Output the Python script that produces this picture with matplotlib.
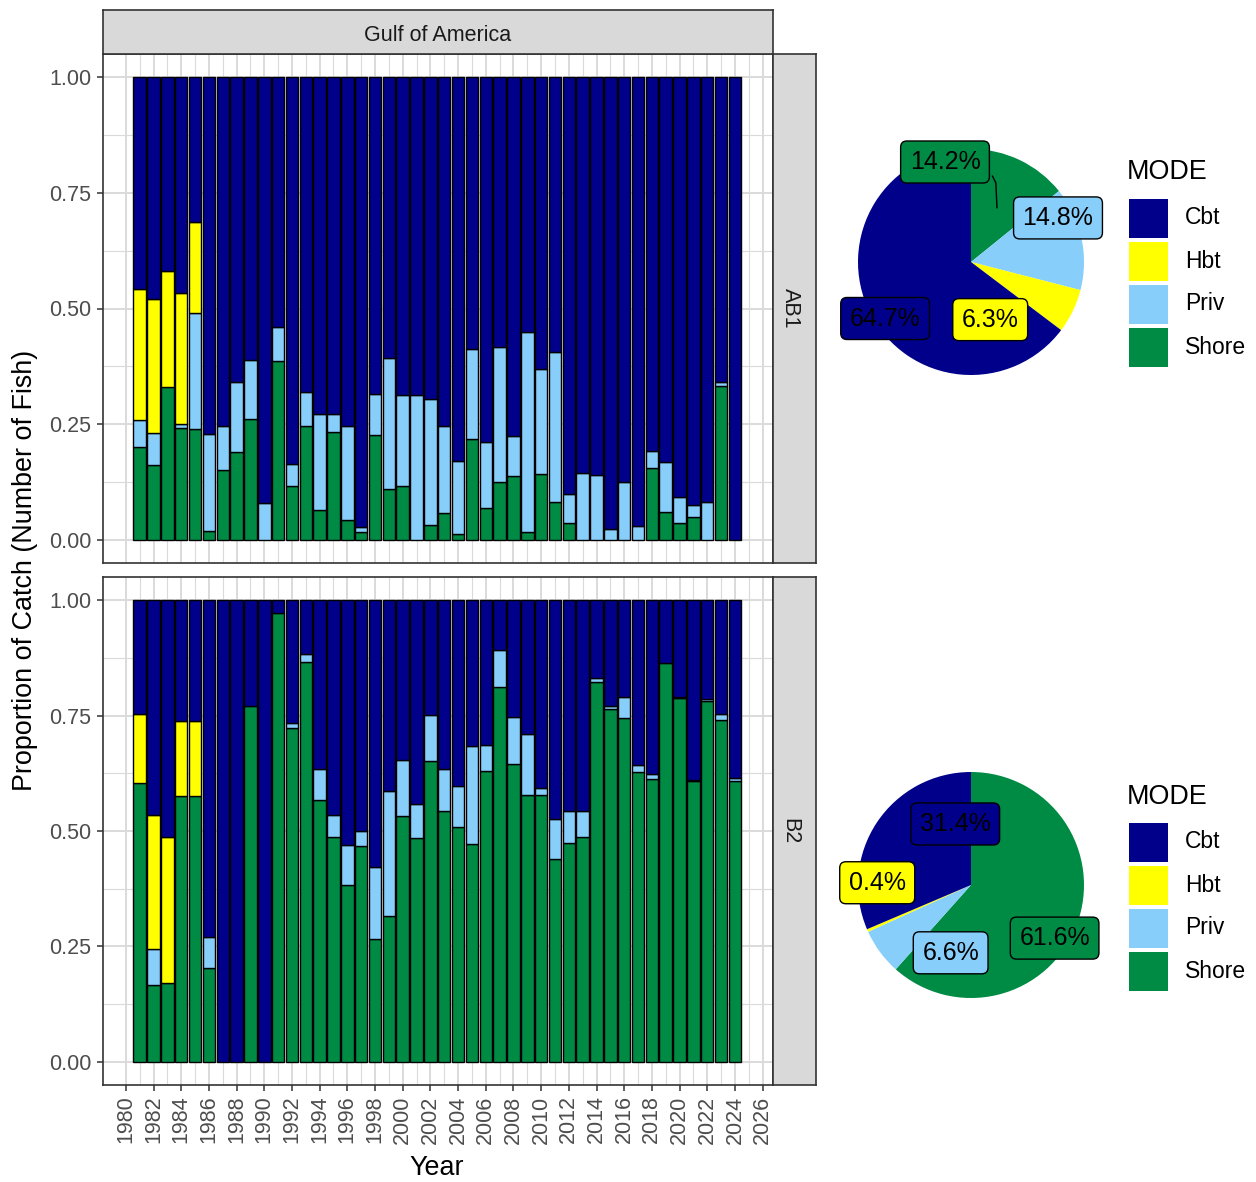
#!/usr/bin/env python3
# -*- coding: utf-8 -*-

#Librairies
import matplotlib
matplotlib.use('Agg')
import matplotlib.pyplot as plt
import numpy as np
from matplotlib.patches import Rectangle

plt.rcParams['font.family'] = ['Liberation Sans', 'DejaVu Sans']

################################
### Data                     ###
################################

years = list(range(1981, 2025))
modes = ['Cbt', 'Hbt', 'Priv', 'Shore']
mode_colors = {'Cbt': '#00008B', 'Hbt': '#FFFF00', 'Priv': '#87CEFA', 'Shore': '#008B45'}

# AB1 proportions (Cbt is the remaining share)
shore_ab1 = [0.201, 0.162, 0.330, 0.242, 0.240, 0.020, 0.150, 0.190, 0.262, 0.000,
             0.386, 0.117, 0.246, 0.065, 0.234, 0.042, 0.017, 0.226, 0.110, 0.117,
             0.000, 0.032, 0.058, 0.012, 0.217, 0.068, 0.126, 0.137, 0.017, 0.142,
             0.081, 0.037, 0.000, 0.000, 0.000, 0.000, 0.000, 0.156, 0.061, 0.037,
             0.049, 0.000, 0.333, 0.000]
priv_ab1 = [0.057, 0.068, 0.000, 0.008, 0.251, 0.209, 0.095, 0.151, 0.127, 0.079,
            0.075, 0.047, 0.074, 0.207, 0.038, 0.203, 0.011, 0.090, 0.282, 0.195,
            0.312, 0.272, 0.187, 0.159, 0.196, 0.144, 0.290, 0.088, 0.432, 0.227,
            0.324, 0.062, 0.144, 0.140, 0.024, 0.124, 0.031, 0.036, 0.107, 0.055,
            0.027, 0.081, 0.009, 0.000]
hbt_ab1 = [0.284, 0.290, 0.251, 0.283, 0.196] + [0.0] * 39

# B2 proportions
shore_b2 = [0.604, 0.167, 0.170, 0.575, 0.575, 0.203, 0.000, 0.000, 0.771, 0.000,
            0.971, 0.723, 0.867, 0.567, 0.488, 0.384, 0.468, 0.267, 0.315, 0.532,
            0.484, 0.652, 0.544, 0.508, 0.471, 0.631, 0.811, 0.644, 0.579, 0.579,
            0.439, 0.475, 0.488, 0.823, 0.764, 0.745, 0.628, 0.612, 0.864, 0.788,
            0.608, 0.782, 0.741, 0.608]
priv_b2 = [0.000, 0.077, 0.000, 0.000, 0.000, 0.067, 0.000, 0.000, 0.000, 0.000,
           0.000, 0.011, 0.016, 0.067, 0.046, 0.086, 0.031, 0.156, 0.272, 0.122,
           0.074, 0.099, 0.090, 0.090, 0.212, 0.056, 0.081, 0.102, 0.132, 0.015,
           0.088, 0.068, 0.055, 0.008, 0.007, 0.046, 0.014, 0.011, 0.000, 0.003,
           0.003, 0.003, 0.013, 0.006]
hbt_b2 = [0.150, 0.290, 0.316, 0.164, 0.164] + [0.0] * 39

# Overall shares (%) for the pies, order Cbt, Hbt, Priv, Shore
pie_ab1 = [64.7, 6.3, 14.8, 14.2]
pie_b2 = [31.4, 0.4, 6.6, 61.6]

################################
### Layout helpers           ###
################################

W, H = 1256, 1182
fig = plt.figure(figsize=(W / 100, H / 100), dpi=100)

def box(x0, y0, x1, y1):
    # pixel box (top-left origin) -> figure fraction rect
    return [x0 / W, 1 - y1 / H, (x1 - x0) / W, (y1 - y0) / H]

grid_col = '#DADADA'
border_col = '#333333'
tick_col = '#4D4D4D'

def bar_panel(rect, shore, priv, hbt, show_x):
    ax = fig.add_axes(rect)
    shore = np.array(shore)
    priv = np.array(priv)
    hbt = np.array(hbt)
    cbt = 1 - shore - priv - hbt
    x = np.array(years)
    bottom = np.zeros(len(years))
    for vals, m in [(shore, 'Shore'), (priv, 'Priv'), (hbt, 'Hbt'), (cbt, 'Cbt')]:
        keep = vals > 0
        ax.bar(x[keep], vals[keep], bottom=bottom[keep], width=0.9, color=mode_colors[m],
               edgecolor='black', linewidth=1.0, zorder=3)
        bottom = bottom + vals
    ax.set_xlim(1978.35, 2026.75)
    ax.set_ylim(-0.05, 1.05)
    ax.set_yticks([0, 0.25, 0.5, 0.75, 1.0])
    ax.set_yticklabels(['0.00', '0.25', '0.50', '0.75', '1.00'])
    ax.set_yticks([0.125, 0.375, 0.625, 0.875], minor=True)
    ax.set_xticks(np.arange(1980, 2027, 2))
    ax.set_xticks(np.arange(1981, 2027, 2), minor=True)
    ax.grid(which='major', color=grid_col, linewidth=1.4, zorder=0)
    ax.grid(which='minor', color=grid_col, linewidth=0.8, zorder=0)
    ax.tick_params(which='minor', length=0)
    ax.tick_params(axis='y', which='major', length=4.5, width=1.1, color=border_col,
                   labelsize=15.5, labelcolor=tick_col, pad=4)
    if show_x:
        ax.set_xticklabels([str(y) for y in range(1980, 2027, 2)], rotation=90)
        ax.tick_params(axis='x', which='major', length=4.5, width=1.1, color=border_col,
                       labelsize=15.5, labelcolor=tick_col, pad=3)
    else:
        ax.tick_params(axis='x', which='major', length=0, labelbottom=False)
    for s in ax.spines.values():
        s.set_color(border_col)
        s.set_linewidth(1.2)
    ax.set_axisbelow(True)
    return ax

def strip(rect, text, rotation=0, dx=0.5, dy=0.5):
    ax = fig.add_axes(rect)
    ax.set_facecolor('#D9D9D9')
    ax.set_xticks([])
    ax.set_yticks([])
    for s in ax.spines.values():
        s.set_color(border_col)
        s.set_linewidth(1.2)
    ax.text(dx, dy, text, ha='center', va='center', rotation=rotation,
            fontsize=15.5, color='#1A1A1A', transform=ax.transAxes)
    return ax

#===========================================================
# --- Bar panels -------------------------------------------
#===========================================================

ax1 = bar_panel(box(103, 54, 773, 563), shore_ab1, priv_ab1, hbt_ab1, False)
ax2 = bar_panel(box(103, 577, 773, 1085), shore_b2, priv_b2, hbt_b2, True)

strip(box(103, 10, 773, 54), 'Gulf of America', dy=0.42)
strip(box(773, 54, 816, 563), 'AB1', rotation=270, dx=0.4)
strip(box(773, 577, 816, 1085), 'B2', rotation=270, dx=0.4)

fig.text(25 / W, 1 - 570 / H, 'Proportion of Catch (Number of Fish)', rotation=90,
         ha='center', va='center', fontsize=19.4)
fig.text(437 / W, 1 - 1168 / H, 'Year', ha='center', va='center', fontsize=19.4)

#===========================================================
# --- Pies -------------------------------------------------
#===========================================================

pie_order = ['Shore', 'Priv', 'Hbt', 'Cbt']

def pie_panel(cx, cy, r, shares, label_pos):
    ax = fig.add_axes(box(cx - r, cy - r, cx + r, cy + r))
    vals = dict(zip(modes, shares))
    ax.pie([vals[m] for m in pie_order], colors=[mode_colors[m] for m in pie_order],
           startangle=90, counterclock=False, radius=1.0)
    ax.set_xlim(-1, 1)
    ax.set_ylim(-1, 1)
    ax.set_aspect('equal')
    ax.axis('off')
    for m in modes:
        x, y = label_pos[m]
        ax.text(x, y, '%.1f%%' % vals[m], ha='center', va='center', fontsize=18,
                color='black', zorder=5,
                bbox=dict(boxstyle='round,pad=0.36,rounding_size=0.25',
                          fc=mode_colors[m], ec='black', lw=1.0))
    return ax

pos_ab1 = {'Shore': (-0.23, 0.885), 'Priv': (0.77, 0.39), 'Hbt': (0.17, -0.51), 'Cbt': (-0.76, -0.50)}
pos_b2 = {'Cbt': (-0.14, 0.54), 'Hbt': (-0.83, 0.02), 'Priv': (-0.18, -0.60), 'Shore': (0.74, -0.47)}

axp1 = pie_panel(971, 262, 113, pie_ab1, pos_ab1)
axp1.plot([0.19, 0.22, 0.23], [0.76, 0.70, 0.48], color='black', lw=1.0, zorder=4)
axp2 = pie_panel(971, 885, 113, pie_b2, pos_b2)

#===========================================================
# --- Legends ----------------------------------------------
#===========================================================

axl = fig.add_axes([0, 0, 1, 1])
axl.set_xlim(0, W)
axl.set_ylim(H, 0)
axl.axis('off')

def legend(title_y, first_y):
    axl.text(1127, title_y, 'MODE', ha='left', va='center', fontsize=19.4)
    for i, m in enumerate(modes):
        yc = first_y + i * 43
        axl.add_patch(Rectangle((1129, yc - 19.5), 39, 39, facecolor=mode_colors[m],
                                edgecolor='none'))
        axl.text(1185, yc, m, ha='left', va='center', fontsize=16.5)

legend(172, 218)
legend(797, 842)

plt.savefig('out.png', dpi=100)
